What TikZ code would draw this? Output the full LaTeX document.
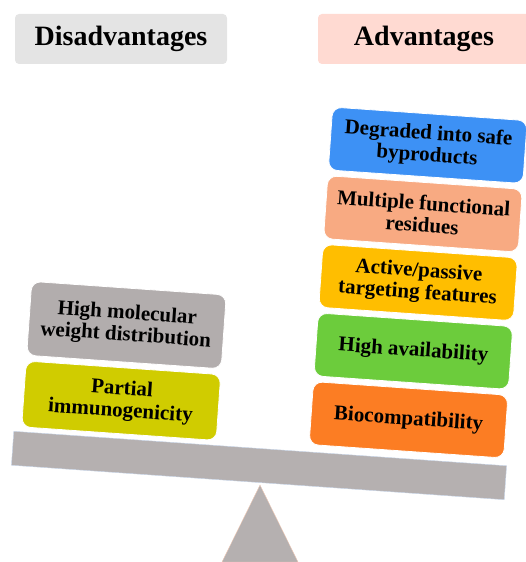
\documentclass[tikz,border=0pt]{standalone}
\usepackage{fontspec}
\setmainfont{Liberation Serif}
\usetikzlibrary{positioning}
\definecolor{hdgray}{RGB}{228,228,228}
\definecolor{hdpink}{RGB}{255,218,210}
\definecolor{beamgray}{RGB}{181,176,176}
\definecolor{beamedge}{RGB}{200,214,235}
\definecolor{triedge}{RGB}{240,200,180}
\definecolor{cgray}{RGB}{178,173,173}
\definecolor{colive}{RGB}{208,204,0}
\definecolor{corange}{RGB}{252,125,35}
\definecolor{cgreen}{RGB}{108,204,60}
\definecolor{camber}{RGB}{255,190,0}
\definecolor{cpeach}{RGB}{248,170,130}
\definecolor{cblue}{RGB}{61,145,245}

\begin{document}
\begin{tikzpicture}[x=1pt,y=1pt,node distance=5pt,
 head/.style={rounded corners=4pt, minimum width=212pt, minimum height=50pt, font=\fontsize{28}{30}\selectfont\bfseries},
 card/.style={rounded corners=9pt, draw=white, line width=0.8pt, minimum width=195pt, minimum height=63pt, align=center, inner sep=2pt, font=\fontsize{21}{22}\selectfont\bfseries, transform shape}]
 \clip (0,0) rectangle (526,562);
 \node[head, fill=hdgray] (dis) at (121,523) {Disadvantages};
 \node[head, fill=hdpink] (adv) at (424,523) {Advantages};
 \draw[fill=beamgray, draw=triedge] (260,77) -- (222,0) -- (298,0) -- cycle;
 \begin{scope}[shift={(259,96.5)}, rotate=-4]
  \node[draw=beamedge, fill=beamgray, minimum width=494pt, minimum height=34pt, inner sep=0pt, transform shape] (beam) at (0,0) {};
  \node[card, fill=colive, minimum height=66pt] (immuno) at (-142,55) {Partial\\immunogenicity};
  \node[card, fill=cgray, minimum height=74pt, above=of immuno] (weight) {High molecular\\weight distribution};
  \node[card, fill=corange] (bio) at (146,56) {Biocompatibility};
  \node[card, fill=cgreen, above=of bio] (avail) {High availability};
  \node[card, fill=camber, above=of avail] (target) {Active/passive\\targeting features};
  \node[card, fill=cpeach, above=of target] (resid) {Multiple functional\\residues};
  \node[card, fill=cblue, above=of resid] (degrad) {Degraded into safe\\byproducts};
 \end{scope}
\end{tikzpicture}
\end{document}
